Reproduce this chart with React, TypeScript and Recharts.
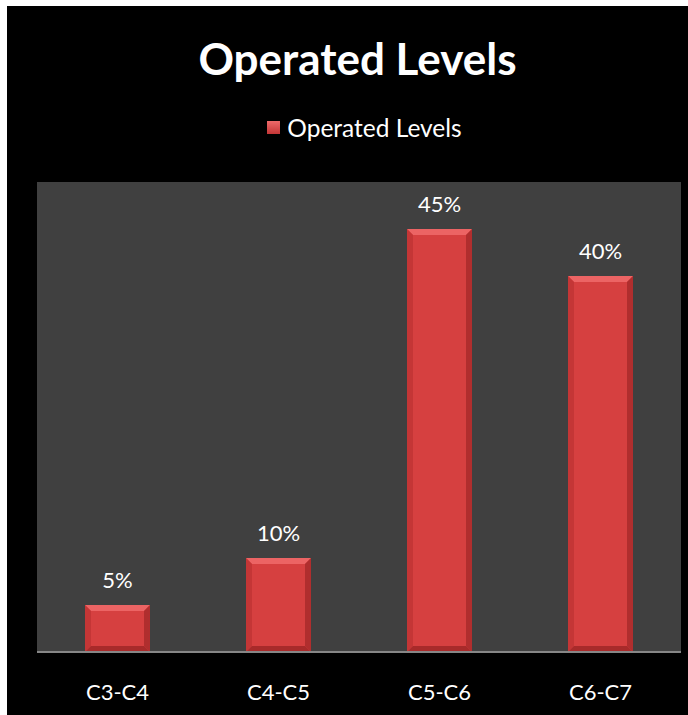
import React from "react";
import { BarChart, Bar, XAxis, YAxis, CartesianGrid, LabelList } from "recharts";

const categories = ["C3-C4", "C4-C5", "C5-C6", "C6-C7"];
const shares = [0.05, 0.1, 0.45, 0.4];
const seriesName = "Operated Levels";
const yDomain = [0, 0.5];

const data = categories.map((name, i) => ({ name, value: shares[i] }));

const FONT = "Lato, 'Open Sans', sans-serif";

// bar with a small bevel, like the Office "bevel" effect
const BevelBar = (props: any) => {
  const { x, y, width, height } = props;
  if (!height || height <= 0) return null;
  const b = Math.min(6, height / 3);
  return (
    <g>
      <rect x={x} y={y} width={width} height={height} fill="#d64040" />
      <polygon
        points={`${x},${y} ${x + width},${y} ${x + width - b},${y + b} ${x + b},${y + b}`}
        fill="#ec6464"
      />
      <polygon
        points={`${x},${y} ${x + b},${y + b} ${x + b},${y + height - b} ${x},${y + height}`}
        fill="#c43636"
      />
      <polygon
        points={`${x + width},${y} ${x + width - b},${y + b} ${x + width - b},${y + height - b} ${x + width},${y + height}`}
        fill="#b02e2e"
      />
      <polygon
        points={`${x},${y + height} ${x + b},${y + height - b} ${x + width - b},${y + height - b} ${x + width},${y + height}`}
        fill="#a82a2a"
      />
    </g>
  );
};

export default function App() {
  return (
    <div
      style={{
        position: "absolute",
        left: 0,
        top: 0,
        width: 688,
        height: 715,
        background: "#fff",
        fontFamily: FONT,
      }}
    >
      <div
        style={{
          position: "absolute",
          left: 7,
          top: 6,
          width: 681,
          height: 709,
          background: "#000",
        }}
      >
        <div
          style={{
            position: "absolute",
            left: 10,
            width: 681,
            top: 26,
            textAlign: "center",
            color: "#fff",
            fontWeight: 700,
            fontSize: 44,
            lineHeight: "53px",
          }}
        >
          {seriesName}
        </div>
        <div
          style={{
            position: "absolute",
            left: 17,
            width: 681,
            top: 107,
            display: "flex",
            justifyContent: "center",
            alignItems: "center",
            color: "#fff",
            fontSize: 24.5,
            lineHeight: "29px",
          }}
        >
          <span
            style={{
              display: "inline-block",
              width: 13,
              height: 13,
              marginRight: 7,
              background: "linear-gradient(#ee6a6a, #c43636)",
            }}
          />
          {seriesName}
        </div>
        <BarChart
          width={681}
          height={709}
          data={data}
          margin={{ top: 176, right: 7, bottom: 0, left: 30 }}
        >
          <CartesianGrid fill="#404040" horizontal={false} vertical={false} />
          <YAxis hide domain={yDomain} />
          <XAxis
            dataKey="name"
            height={63}
            axisLine={{ stroke: "#868686", strokeWidth: 2 }}
            tickLine={false}
            tick={{ fill: "#fff", fontSize: 22, fontFamily: FONT }}
            tickMargin={26}
          />
          <Bar
            dataKey="value"
            name={seriesName}
            barSize={65}
            shape={<BevelBar />}
            isAnimationActive={false}
          >
            <LabelList
              dataKey="value"
              position="top"
              offset={17}
              fill="#fff"
              fontSize={22}
              fontFamily={FONT}
              formatter={(v: any) => `${Math.round(Number(v) * 100)}%`}
            />
          </Bar>
        </BarChart>
      </div>
    </div>
  );
}
